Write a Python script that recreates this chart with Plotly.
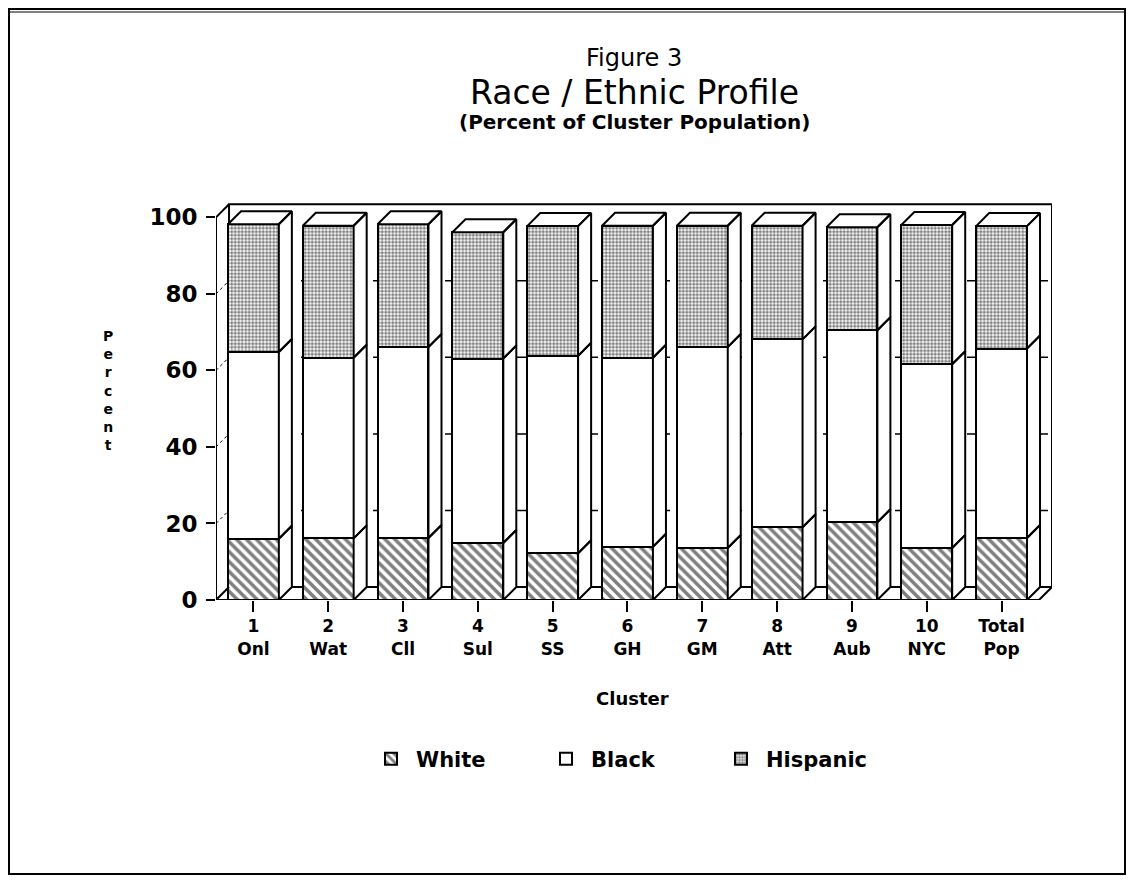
import plotly.graph_objects as go

# ---- data ----
cluster_ids = ["1", "2", "3", "4", "5", "6", "7", "8", "9", "10", "Total"]
cluster_names = ["Onl", "Wat", "Cll", "Sul", "SS", "GH", "GM", "Att", "Aub", "NYC", "Pop"]
white = [16.0, 16.1, 16.2, 14.9, 12.2, 13.9, 13.6, 19.0, 20.3, 13.6, 16.2]
black = [48.8, 47.2, 49.9, 48.2, 51.6, 49.4, 52.5, 49.1, 50.2, 48.0, 49.5]
hispanic = [33.4, 34.5, 32.1, 33.0, 33.9, 34.5, 31.7, 29.7, 26.9, 36.4, 32.0]
y_ticks = [0, 20, 40, 60, 80, 100]

# ---- geometry / style ----
OFF = 8                      # browser body margin
W, H = 1134 - 2 * OFF, 883 - 2 * OFF
ML, MT = 216 - OFF, 202 - OFF
MR = W - (1052 - OFF)
MB = H - (600 - OFF)
BAR_W = 0.68
DX = 0.174      # depth offset in category units
DY = 3.4        # depth offset in percent units
YMAX = 104
FONT = "DejaVu Sans, Verdana, sans-serif"

xs = list(range(len(cluster_ids)))
n = len(xs)
ticktext = [f"<b>{a}<br>{b}</b>" for a, b in zip(cluster_ids, cluster_names)]

pw, ph = W - ML - MR, H - MT - MB
def paper_x(p): return (p - OFF - ML) / pw      # p: page pixel
def paper_y(p): return (H - MB - (p - OFF)) / ph

fig = go.Figure()

series = [
    ("White", white, dict(shape="\\", fgcolor="black", bgcolor="white", size=7, solidity=0.5)),
    ("Black", black, None),
    ("Hispanic", hispanic, dict(shape=".", fgcolor="black", bgcolor="white", size=3.5, solidity=0.6)),
]
for name, vals, pat in series:
    marker = dict(color="white", line=dict(color="black", width=2))
    if pat:
        marker["pattern"] = pat
    fig.add_trace(go.Bar(x=xs, y=vals, name=name, width=BAR_W, marker=marker))

# 3D side and top faces computed from the stacked values
px, py = [], []
for i in xs:
    xr = i + BAR_W / 2
    xl = i - BAR_W / 2
    base = 0.0
    for vals in (white, black, hispanic):
        top = base + vals[i]
        px += [xr, xr + DX, xr + DX, xr, xr, None]
        py += [base, base + DY, top + DY, top, base, None]
        base = top
    px += [xl, xl + DX, xr + DX, xr, xl, None]
    py += [base, base + DY, base + DY, base, base, None]
fig.add_trace(go.Scatter(x=px, y=py, mode="lines", fill="toself", fillcolor="white",
                         line=dict(color="black", width=2), showlegend=False, hoverinfo="skip"))

# ---- frame: back wall, left wall, floor ----
x0, x1 = -0.5, n - 0.5
shapes = [
    dict(type="rect", xref="x", yref="y", x0=x0 + DX, x1=x1 + DX, y0=DY, y1=100 + DY,
         line=dict(color="black", width=2), fillcolor="white", layer="below"),
]
for v in y_ticks[1:-1]:
    shapes.append(dict(type="line", xref="x", yref="y", x0=x0 + DX, x1=x1 + DX, y0=v + DY, y1=v + DY,
                       line=dict(color="black", width=1.5, dash="dash"), layer="below"))
    shapes.append(dict(type="line", xref="x", yref="y", x0=x0, x1=x0 + DX, y0=v, y1=v + DY,
                       line=dict(color="black", width=1, dash="dot"), layer="below"))
shapes += [
    dict(type="line", xref="x", yref="y", x0=x0, x1=x0, y0=0, y1=100, line=dict(color="black", width=2)),
    dict(type="line", xref="x", yref="y", x0=x0, x1=x0 + DX, y0=100, y1=100 + DY, line=dict(color="black", width=2)),
    dict(type="line", xref="x", yref="y", x0=x0, x1=x0 + DX, y0=0, y1=DY, line=dict(color="black", width=2)),
    dict(type="line", xref="x", yref="y", x0=x0, x1=x1, y0=0, y1=0, line=dict(color="black", width=2)),
    dict(type="line", xref="x", yref="y", x0=x1, x1=x1 + DX, y0=0, y1=DY, line=dict(color="black", width=2)),
]

# outer page frame
shapes.append(dict(type="rect", xref="paper", yref="paper",
                   x0=paper_x(9), x1=paper_x(1125), y0=paper_y(874), y1=paper_y(9),
                   line=dict(color="black", width=2)))
shapes.append(dict(type="line", xref="paper", yref="paper",
                   x0=paper_x(9), x1=paper_x(1125), y0=paper_y(12), y1=paper_y(12),
                   line=dict(color="black", width=1)))

TX = 634
annotations = [
    dict(text="Figure 3", x=paper_x(TX), y=paper_y(58),
         font=dict(family=FONT, size=24, color="black")),
    dict(text="Race / Ethnic Profile", x=paper_x(TX), y=paper_y(92),
         font=dict(family=FONT, size=33, color="black")),
    dict(text="<b>(Percent of Cluster Population)</b>", x=paper_x(TX), y=paper_y(122),
         font=dict(family=FONT, size=20, color="black")),
    dict(text="<b>Cluster</b>", x=paper_x(632), y=paper_y(698),
         font=dict(family=FONT, size=18, color="black")),
    dict(text="<b>" + "<br>".join("Percent") + "</b>", x=paper_x(108), y=paper_y(390),
         font=dict(family=FONT, size=14, color="black")),
]
for a in annotations:
    a.update(xref="paper", yref="paper", showarrow=False, xanchor="center", yanchor="middle")

fig.update_layout(
    width=W, height=H,
    margin=dict(l=ML, r=MR, t=MT, b=MB),
    paper_bgcolor="white", plot_bgcolor="white",
    barmode="stack",
    showlegend=True,
    legend=dict(orientation="h", x=paper_x(366), xanchor="left", y=paper_y(759), yanchor="middle",
                font=dict(family=FONT, size=21, color="black", weight="bold"),
                itemwidth=40, traceorder="normal", entrywidth=120),
    shapes=shapes,
    annotations=annotations,
    xaxis=dict(range=[x0, x1 + DX], tickvals=xs, ticktext=ticktext,
               showgrid=False, zeroline=False, showline=False,
               ticks="outside", ticklen=11, tickwidth=2, tickcolor="black",
               tickfont=dict(family=FONT, size=17, color="black")),
    yaxis=dict(range=[0, YMAX], tickvals=y_ticks, showgrid=False, zeroline=False, showline=False,
               ticks="outside", ticklen=9, tickwidth=2, tickcolor="black", ticklabelstandoff=4,
               tickfont=dict(family=FONT, size=23, color="black", weight="bold")),
    hovermode=False,
)

fig.write_html("out.html")
